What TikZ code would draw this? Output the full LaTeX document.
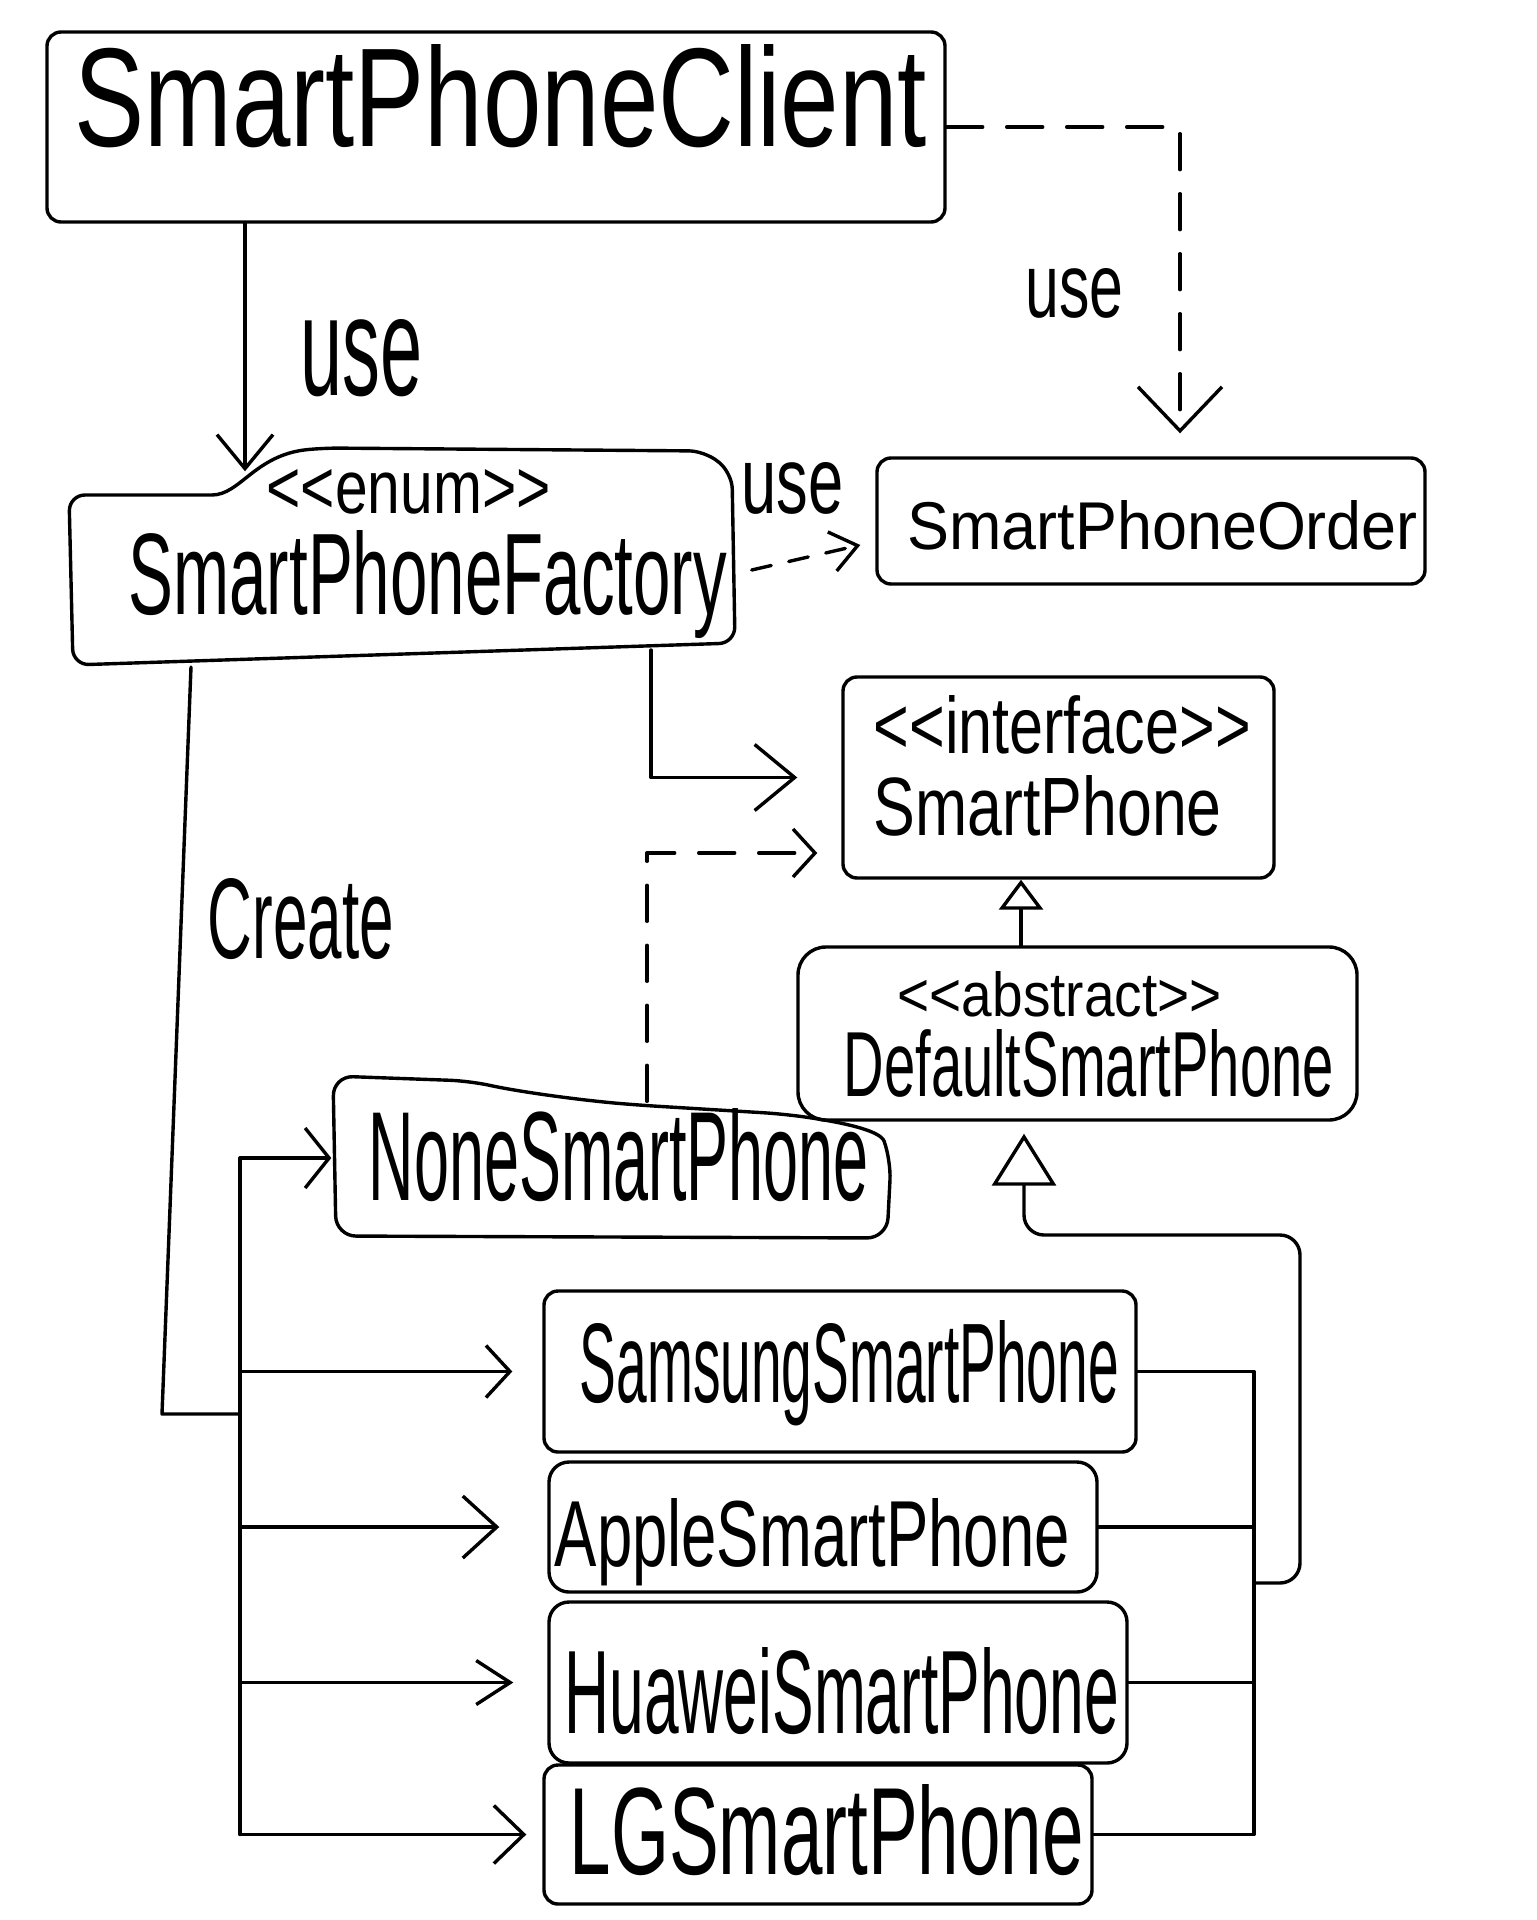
\documentclass[tikz,border=0pt]{standalone}
\usepackage{fontspec}
\usepackage{graphicx}
\newfontfamily\hand{Liberation Sans}
\usetikzlibrary{arrows.meta,fit,calc}
\newlength\pxu \setlength\pxu{0.5pt}
\newcommand\hw[3]{\resizebox{#1\pxu}{#2\pxu}{\hand #3}}
\begin{document}
\begin{tikzpicture}[x=0.5pt,y=-0.5pt, line width=1.7pt, line cap=round, line join=round,
  box/.style={draw, rounded corners=7pt, inner sep=0pt},
  ghost/.style={draw=none, inner sep=0pt},
  lbl/.style={anchor=base west, inner sep=0pt},
  ar/.style 2 args={-{Straight Barb[length=#1pt,width=#2pt]}},
  tri/.style 2 args={-{Triangle[open,length=#1pt,width=#2pt]}},
  dsh/.style={dash pattern=on 18pt off 12pt}]
\useasboundingbox (0,0) rectangle (1536,1920);

% ---- boxes ----
\node[box, fit={(47,32) (945,222)}] (client) {};
\node[ghost, fit={(69,473) (735,667)}] (factory) {};
\draw[rounded corners=8pt] (73,665) -- (69,495) -- (196,495)
   .. controls (240,495) and (255,455) .. (323,448) -- (705,451) -- (732,473) -- (735,643) -- cycle;
\node[box, fit={(877,458) (1425,584)}] (order) {};
\node[box, fit={(843,677) (1274,878)}] (iface) {};
\node[box, rounded corners=14pt, fit={(798,947) (1357,1120)}] (abs) {};
\node[ghost, fit={(333,1076) (891,1240)}] (none) {};
\draw[rounded corners=10pt] (336,1236) -- (333,1076) -- (470,1081)
   .. controls (520,1092) and (580,1100) .. (637,1105) -- (784,1114)
   .. controls (840,1122) and (880,1130) .. (891,1160) -- (887,1238) -- cycle;
\node[box, fit={(544,1291) (1136,1452)}] (samsung) {};
\node[box, rounded corners=10pt, fit={(549,1462) (1097,1592)}] (apple) {};
\node[box, rounded corners=10pt, fit={(549,1602) (1127,1763)}] (huawei) {};
\node[box, fit={(544,1765) (1092,1904)}] (lg) {};

% ---- texts ----
\node[lbl] (tclient) at (73,147) {\hw{852}{102}{SmartPhoneClient}};
\node[lbl] (tenum) at (265,513) {\hw{284}{44}{<<enum>>}};
\node[lbl] (tfactory) at (127,614) {\hw{598}{84}{SmartPhoneFactory}};
\node[lbl] (tuse1) at (299,395) {\hw{122}{76}{use}};
\node[lbl] (tuse2) at (1024,317) {\hw{98}{49}{use}};
\node[lbl] (tuse3) at (740,513) {\hw{102}{51}{use}};
\node[lbl] (torder) at (906,549) {\hw{510}{49}{SmartPhoneOrder}};
\node[lbl] (tiface1) at (872,753) {\hw{377}{58}{<<interface>>}};
\node[lbl] (tiface2) at (872,835) {\hw{348}{60}{SmartPhone}};
\node[lbl] (tabs1) at (896,1016) {\hw{324}{45}{<<abstract>>}};
\node[lbl] (tabs2) at (842,1096) {\hw{490}{67}{DefaultSmartPhone}};
\node[lbl] (tnone) at (367,1200) {\hw{500}{92}{NoneSmartPhone}};
\node[lbl] (tsamsung) at (578,1402) {\hw{539}{82}{SamsungSmartPhone}};
\node[lbl] (tapple) at (553,1566) {\hw{515}{68}{AppleSmartPhone}};
\node[lbl] (thuawei) at (563,1733) {\hw{554}{86}{HuaweiSmartPhone}};
\node[lbl] (tlg) at (568,1874) {\hw{514}{90}{LGSmartPhone}};
\node[lbl] (tcreate) at (206,958) {\hw{186}{80}{Create}};

% ---- connectors ----
\coordinate (k) at (245,0);
\draw[ar={17}{28}] (client.south -| k) -- (k |- factory.north);

\coordinate (o1) at (1180,0);
\draw[dsh, ar={22}{42}] (client.east) -| ($(order.north -| o1)+(0,-23)$);

\draw[dash pattern=on 10pt off 9pt, ar={13}{20}] ($(factory.east)+(15,0)$) -- ($(order.west)+(-15,24)$);

\coordinate (f1) at (651,650);
\draw[ar={20}{33}, shorten >=22pt] (f1) |- (iface.west);

\coordinate (n1) at (647,853);
\draw[dsh, ar={11}{24}, shorten >=12pt] ($(none.north -| n1)+(0,27)$) -- (n1) -- (n1 -| iface.west);

\coordinate (r1) at (1021,0);
\draw[dsh, tri={15}{22}] (abs.north -| r1) -- (iface.south -| r1);

% create bus
\coordinate (c1) at (191,667);
\coordinate (c2) at (162,1414);
\coordinate (bx) at (240,0);
\draw (c1) -- (c2) -- (c2 -| bx);
\draw (none.west -| bx) -- (lg.west -| bx);
\draw[ar={12}{30}] (none.west -| bx) -- (none.west);
\draw[ar={12}{26}, shorten >=15pt] (samsung.west -| bx) -- (samsung.west);
\draw[ar={17}{31}, shorten >=24pt] (apple.west -| bx) -- (apple.west);
\draw[ar={17}{22}, shorten >=17pt] (huawei.west -| bx) -- (huawei.west);
\draw[ar={15}{29}, shorten >=8pt] (lg.west -| bx) -- (lg.west);

% generalization bus
\coordinate (gx) at (1254,0);
\draw (samsung.east) -- (samsung.east -| gx) -- (lg.east -| gx) -- (lg.east);
\draw (apple.east) -- (apple.east -| gx);
\draw (huawei.east) -- (huawei.east -| gx);
\coordinate (g1) at (1254,1583);
\coordinate (g2) at (1300,1235);
\coordinate (g3) at (1024,1235);
\draw[rounded corners=10pt, tri={26}{32}] (g1) -- (g1 -| g2) -- (g2) -- (g3) -- ($(abs.south -| g3)+(0,12)$);
\end{tikzpicture}
\end{document}
